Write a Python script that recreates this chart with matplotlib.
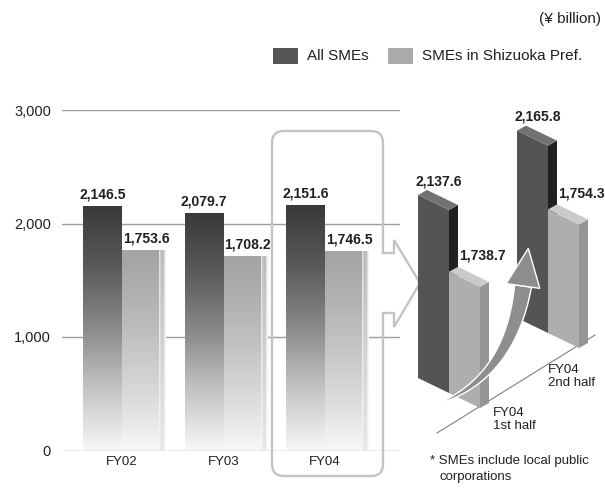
import numpy as np
import matplotlib
matplotlib.use('Agg')
import matplotlib.pyplot as plt
from matplotlib.colors import LinearSegmentedColormap
from matplotlib.patches import Polygon, FancyBboxPatch, Rectangle

plt.rcParams['font.family'] = ['Liberation Sans', 'DejaVu Sans']
NUM = dict(family=['Liberation Sans'], fontweight='bold', fontsize=10, color='#231f20')

# yearly totals, ¥ billion
years = ['FY02', 'FY03', 'FY04']
all_smes = [2146.5, 2079.7, 2151.6]
shizuoka = [1753.6, 1708.2, 1746.5]
yticks = [0, 1000, 2000, 3000]

# FY04 split into halves
halves = ['FY04\n1st half', 'FY04\n2nd half']
all_smes_half = [2137.6, 2165.8]
shizuoka_half = [1738.7, 1754.3]

W, H = 605, 492
fig = plt.figure(figsize=(W / 100, H / 100), dpi=100)

# ---------------- main bar chart ----------------
y0_px, y3000_px = 450.5, 110
ax = fig.add_axes([62 / W, 1 - y0_px / H, 338 / W, (y0_px - y3000_px) / H], zorder=1)
for s in ax.spines.values():
    s.set_visible(False)
ax.set_yticks(yticks)
ax.set_yticklabels([f'{t:,}' for t in yticks], fontsize=10.5, color='#231f20')
ax.set_xticks(range(len(years)))
ax.set_xticklabels(years, fontsize=9.5, color='#231f20')
ax.tick_params(axis='y', length=0, pad=8)
ax.tick_params(axis='x', length=0, pad=4)
ax.yaxis.grid(True, color='#9d9d9f', lw=1.0)
ax.set_axisbelow(True)

dark_cmap = LinearSegmentedColormap.from_list(
    'dark', ['#f7f7f7', '#c4c4c5', '#8a8a8c', '#5a5a5c', '#39393b'])
light_cmap = LinearSegmentedColormap.from_list(
    'light', ['#f7f7f7', '#dcdcdd', '#c6c6c8', '#b2b2b4', '#a3a3a5'])
grad = np.linspace(0, 1, 256).reshape(-1, 1)

w_dark = 39 / 101.5
w_light = 37 / 101.5
w_strip = 7 / 101.5

# side strip on the light bars: horizontal shading fading out at the bottom
prof = np.array([0.88, 0.80, 0.74, 0.72, 0.77, 0.86, 0.94])
fade = np.linspace(0.35, 1, 128).reshape(-1, 1)
strip_gray = 1 - (1 - prof[None, :]) * fade
strip_rgb = np.dstack([strip_gray] * 3)

for i, (a, s) in enumerate(zip(all_smes, shizuoka)):
    ax.imshow(grad, extent=[i - w_dark, i, 0, a], origin='lower', aspect='auto',
              cmap=dark_cmap, vmin=0, vmax=1, zorder=2, interpolation='bilinear')
    ax.imshow(grad, extent=[i, i + w_light, 0, s], origin='lower', aspect='auto',
              cmap=light_cmap, vmin=0, vmax=1, zorder=2, interpolation='bilinear')
    ax.imshow(strip_rgb, extent=[i + w_light, i + w_light + w_strip, 0, s],
              origin='lower', aspect='auto', zorder=2, interpolation='bilinear')
    ax.annotate(f'{a:,.1f}', (i - w_dark / 2, a), xytext=(0, 4), textcoords='offset points',
                ha='center', va='bottom', zorder=5, **NUM)
    ax.annotate(f'{s:,.1f}', (i + 0.24, s), xytext=(0, 4), textcoords='offset points',
                ha='center', va='bottom', zorder=5, **NUM)
ax.set_xlim(-60 / 101.5, 278 / 101.5)
ax.set_ylim(0, 3000)

# ---------------- decorations in pixel space ----------------
deco = fig.add_axes([0, 0, 1, 1], zorder=2)
deco.set_xlim(0, W)
deco.set_ylim(H, 0)
deco.axis('off')

box_col = '#c3c3c5'
deco.add_patch(FancyBboxPatch((272, 131), 111, 345,
                              boxstyle='round,pad=0,rounding_size=12',
                              fc='none', ec=box_col, lw=1.7, zorder=3))
deco.add_patch(Rectangle((380.5, 254), 5, 58, fc='white', ec='none', zorder=4))
arrow_x = [383, 394, 394, 420, 394, 394, 383]
arrow_y = [253, 253, 240, 283, 327, 313, 313]
deco.plot(arrow_x, arrow_y, color=box_col, lw=1.7, zorder=5, solid_joinstyle='miter')

# legend
deco.add_patch(Rectangle((273, 48), 25, 16, fc='#545557', ec='none'))
deco.text(307, 56.5, 'All SMEs', fontsize=11, va='center', color='#231f20')
deco.add_patch(Rectangle((388, 48), 25, 16, fc='#a9aaac', ec='none'))
deco.text(422, 56.5, 'SMEs in Shizuoka Pref.', fontsize=11, va='center', color='#231f20')
deco.text(601, 19, '(¥ billion)', fontsize=11, ha='right', va='center', color='#231f20')

# footnote
deco.text(430, 461, '* SMEs include local public', fontsize=9.5, va='center', color='#231f20')
deco.text(439, 477, 'corporations', fontsize=9.5, va='center', color='#231f20')

# ground line under the split bars
deco.plot([437, 595], [433, 335], color='#808082', lw=0.8, zorder=2)

# half-year labels
deco.text(493, 407, halves[0], fontsize=9.5, va='top', linespacing=1.15, color='#231f20')
deco.text(548, 364, halves[1], fontsize=9.5, va='top', linespacing=1.15, color='#231f20')

# ---------------- oblique bars for the two halves ----------------
k = 0.155          # pixels per ¥ billion
v0 = 957.0         # value sitting on the ground line
ax3 = fig.add_axes([0, 0, 1, 1], zorder=3)
ax3.set_xlim(0, W)
ax3.set_ylim(v0 - (H - 378) / k, v0 + 378 / k)
ax3.axis('off')

FW, FD = 31, 15     # front edge: right, down
DW, DD = 9, 5       # depth edge: right, up


def bar3d(x, py, v, face, top, side):
    yb = v0 - (py - 378) / k
    h = v - v0
    fl_b = (x, yb)
    fr_b = (x + FW, yb - FD / k)
    fl_t = (x, yb + h)
    fr_t = (x + FW, yb - FD / k + h)
    bl_t = (fl_t[0] + DW, fl_t[1] + DD / k)
    br_t = (fr_t[0] + DW, fr_t[1] + DD / k)
    br_b = (fr_b[0] + DW, fr_b[1] + DD / k)
    ax3.add_patch(Polygon([fl_b, fr_b, fr_t, fl_t], closed=True, fc=face, ec='none', zorder=2))
    ax3.add_patch(Polygon([fr_b, br_b, br_t, fr_t], closed=True, fc=side, ec='none', zorder=2))
    ax3.add_patch(Polygon([fl_t, fr_t, br_t, bl_t], closed=True, fc=top, ec='none', zorder=2))
    return fl_t


# back pair first, then front pair
offsets = [(418, 378), (517, 318)]
for j in (1, 0):
    x, py = offsets[j]
    a, s = all_smes_half[j], shizuoka_half[j]
    t = bar3d(x, py, a, '#535456', '#717274', '#221f20')
    ax3.text(t[0] + 21, t[1] + 7 / k, f'{a:,.1f}', ha='center', va='bottom', **NUM)
    t = bar3d(x + FW, py + FD, s, '#adaeb0', '#c9cacc', '#949597')
    ax3.text(t[0] + 33, t[1] + 9 / k, f'{s:,.1f}', ha='center', va='bottom', **NUM)

# curved growth arrow (pixel space, drawn on top)
ov = fig.add_axes([0, 0, 1, 1], zorder=4)
ov.set_xlim(0, W)
ov.set_ylim(H, 0)
ov.axis('off')
P0, P1, P2 = np.array([437, 404.]), np.array([510, 378.]), np.array([523, 286.])
tt = np.linspace(0, 1, 60)[:, None]
pts = (1 - tt) ** 2 * P0 + 2 * tt * (1 - tt) * P1 + tt ** 2 * P2
der = 2 * (1 - tt) * (P1 - P0) + 2 * tt * (P2 - P1)
unit = der / np.linalg.norm(der, axis=1, keepdims=True)
nrm = np.column_stack([-unit[:, 1], unit[:, 0]])
hw = 8.5 * tt ** 0.9
left = pts + nrm * hw
right = pts - nrm * hw
shaft = np.vstack([left, right[::-1]])
ov.add_patch(Polygon(shaft, closed=True, fc='#8e8e90', ec='white', lw=1.0, zorder=2))
tang = unit[-1]
n_end = nrm[-1]
tip = P2 + tang * 38
head = [P2 + n_end * 17, tip, P2 - n_end * 17]
ov.add_patch(Polygon(head, closed=True, fc='#8e8e90', ec='white', lw=1.0, zorder=3))

fig.savefig('out.png', dpi=100, facecolor='white')
